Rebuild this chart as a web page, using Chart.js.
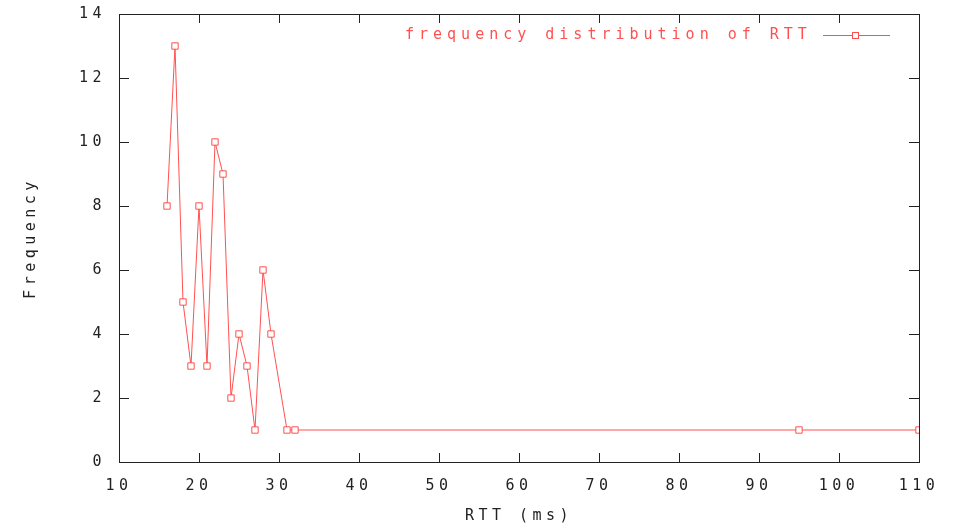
<!DOCTYPE html>
<html>
<head>
<meta charset="utf-8">
<script src="https://cdn.jsdelivr.net/npm/chart.js@4"></script>
<style>
  html, body { margin: 0; padding: 0; background: #fff; }
  #wrap { width: 957px; height: 529px; }
</style>
</head>
<body>
<div id="wrap"><canvas id="chart" width="957" height="529"></canvas></div>
<script>
// RTT values (ms) and how often each one was seen
const rtt = [16, 17, 18, 19, 20, 21, 22, 23, 24, 25, 26, 27, 28, 29, 31, 32, 95, 110];
const frequency = [8, 13, 5, 3, 8, 3, 10, 9, 2, 4, 3, 1, 6, 4, 1, 1, 1, 1];
const xTicks = [10, 20, 30, 40, 50, 60, 70, 80, 90, 100, 110];
const yTicks = [0, 2, 4, 6, 8, 10, 12, 14];
const seriesName = "frequency distribution of RTT";

const red = "rgb(255, 80, 80)";
const monoFont = { family: "'DejaVu Sans Mono', 'Liberation Mono', monospace", size: 15 };
const spacing = "4.5px";

// wide gnuplot-style text spacing for every label the chart draws
const spacingPlugin = {
  id: "spacing",
  beforeUpdate(chart) { chart.ctx.letterSpacing = spacing; },
  beforeDraw(chart) { chart.ctx.letterSpacing = spacing; },
};

// gnuplot-like frame with inward ticks on all four sides + legend
const framePlugin = {
  id: "frame",
  afterDatasetsDraw(chart) {
    const { ctx, chartArea: a, scales } = chart;
    ctx.save();
    ctx.strokeStyle = "#222";
    ctx.lineWidth = 1;
    ctx.strokeRect(a.left + 0.5, a.top + 0.5, a.right - a.left, a.bottom - a.top);
    ctx.beginPath();
    xTicks.forEach((v) => {
      const x = Math.round(scales.x.getPixelForValue(v)) + 0.5;
      ctx.moveTo(x, a.bottom); ctx.lineTo(x, a.bottom - 9);
      ctx.moveTo(x, a.top); ctx.lineTo(x, a.top + 9);
    });
    yTicks.forEach((v) => {
      const y = Math.round(scales.y.getPixelForValue(v)) + 0.5;
      ctx.moveTo(a.left, y); ctx.lineTo(a.left + 10, y);
      ctx.moveTo(a.right, y); ctx.lineTo(a.right - 10, y);
    });
    ctx.stroke();

    // legend: text then sample line with a marker
    ctx.font = "15px 'DejaVu Sans Mono', monospace";
    ctx.letterSpacing = "5px";
    ctx.fillStyle = red;
    ctx.textBaseline = "middle";
    ctx.textAlign = "left";
    const ly = 35;
    ctx.fillText(seriesName, 405, ly);
    ctx.strokeStyle = red;
    ctx.beginPath();
    ctx.moveTo(823, ly + 0.5); ctx.lineTo(890, ly + 0.5);
    ctx.stroke();
    ctx.fillStyle = "#fff";
    ctx.fillRect(852, ly - 3, 7, 7);
    ctx.strokeRect(852.5, ly - 2.5, 6, 6);
    ctx.restore();
  },
};

new Chart(document.getElementById("chart"), {
  type: "scatter",
  data: {
    datasets: [
      {
        label: seriesName,
        data: rtt.map((x, i) => ({ x, y: frequency[i] })),
        showLine: true,
        borderColor: red,
        borderWidth: 1,
        pointStyle: "rect",
        pointRadius: 4.5,
        pointBorderWidth: 1,
        pointBorderColor: red,
        pointBackgroundColor: "#fff",
        tension: 0,
      },
    ],
  },
  options: {
    responsive: false,
    animation: false,
    layout: { padding: { top: 14, right: 38, left: 0, bottom: 0 } },
    plugins: { legend: { display: false }, tooltip: { enabled: false } },
    scales: {
      x: {
        type: "linear",
        min: 10,
        max: 110,
        afterBuildTicks: (s) => { s.ticks = xTicks.map((value) => ({ value })); },
        afterFit: (s) => { s.height = 67; s.paddingLeft = 0; s.paddingRight = 0; },
        grid: { display: false, drawTicks: false },
        border: { display: false },
        ticks: { color: "#222", font: monoFont, padding: 15, maxRotation: 0 },
        title: { display: true, text: "RTT (ms)", color: "#222", font: monoFont, padding: { top: 10 } },
      },
      y: {
        min: 0,
        max: 14,
        afterBuildTicks: (s) => { s.ticks = yTicks.map((value) => ({ value })); },
        afterFit: (s) => { s.width = 119; s.paddingTop = 0; s.paddingBottom = 0; },
        grid: { display: false, drawTicks: false },
        border: { display: false },
        ticks: { color: "#222", font: monoFont, padding: 13 },
        title: { display: true, text: "Frequency", color: "#222", font: monoFont, padding: { top: 22 } },
      },
    },
  },
  plugins: [spacingPlugin, framePlugin],
});
</script>
</body>
</html>
